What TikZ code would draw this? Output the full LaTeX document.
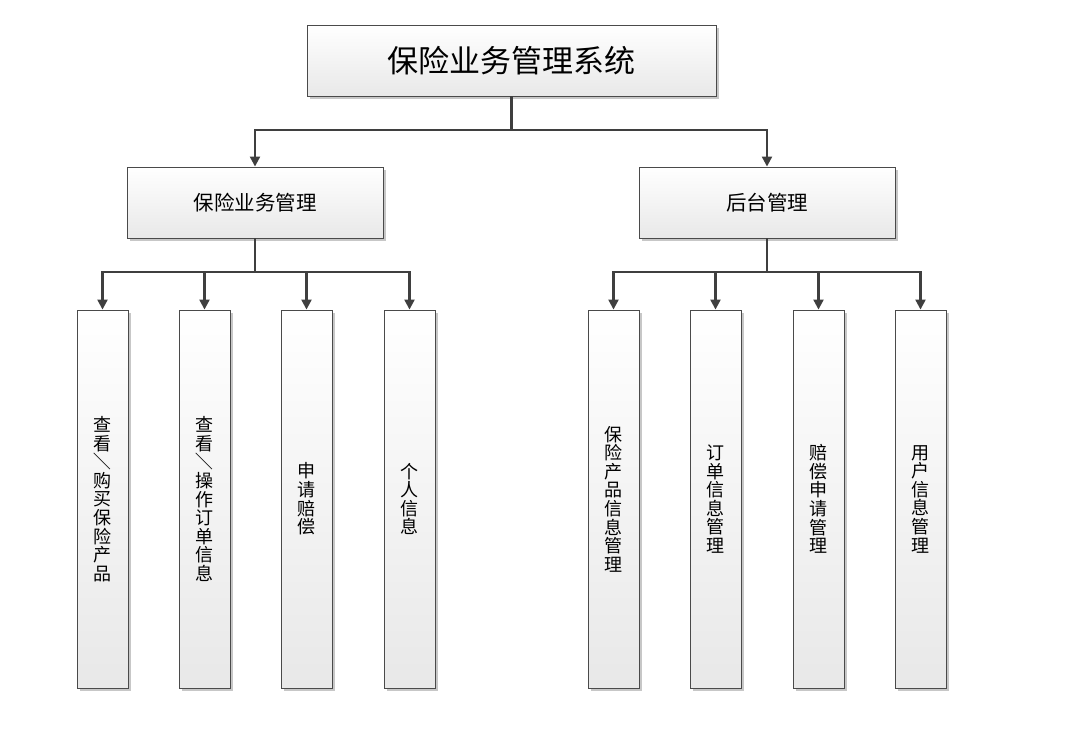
\documentclass[tikz,border=0pt]{standalone}
\usepackage{fontspec}
\usepackage{graphicx}
\newfontfamily\cjk{Noto Sans CJK SC}
\usetikzlibrary{arrows.meta,shadows}
\definecolor{boxborder}{HTML}{4A4A4A}
\definecolor{boxbottom}{HTML}{E8E8E8}
\definecolor{linecol}{HTML}{3F3F3F}
\tikzset{
  box/.style={draw=boxborder, line width=0.9pt, top color=white, bottom color=boxbottom,
    drop shadow={shadow xshift=2.5pt, shadow yshift=-2.5pt, fill=black!22, opacity=1},
    inner sep=0pt, text=black, align=center},
  topbox/.style={box, minimum width=409pt, minimum height=71pt, font=\cjk\fontsize{31}{34}\selectfont},
  midbox/.style={box, minimum width=256pt, minimum height=71pt, font=\cjk\fontsize{20.5}{24}\selectfont},
  leafbox/.style={box, minimum width=51pt, minimum height=378pt, font=\cjk\fontsize{18}{18.6}\selectfont},
  conn/.style={draw=linecol, line width=2.2pt},
  arr/.style={conn, -{Triangle[length=10pt,width=10pt]}},
}
\newcommand{\rslash}{\rotatebox[origin=c]{-90}{／}}
\begin{document}
\begin{tikzpicture}[x=1pt,y=-1pt]
\useasboundingbox (0,0) rectangle (1087,737);
\node[topbox] (top) at (511.5,60.5) {保险业务管理系统};
\node[midbox] (ml) at (255,202.5) {保险业务管理};
\node[midbox] (mr) at (767,202.5) {后台管理};
\node[leafbox] (l1) at (102.5,499) {查\\看\\\rslash\\购\\买\\保\\险\\产\\品};
\node[leafbox] (l2) at (204.5,499) {查\\看\\\rslash\\操\\作\\订\\单\\信\\息};
\node[leafbox] (l3) at (306.5,499) {申\\请\\赔\\偿};
\node[leafbox] (l4) at (409.5,499) {个\\人\\信\\息};
\node[leafbox] (r1) at (613.5,499) {保\\险\\产\\品\\信\\息\\管\\理};
\node[leafbox] (r2) at (715.5,499) {订\\单\\信\\息\\管\\理};
\node[leafbox] (r3) at (818.5,499) {赔\\偿\\申\\请\\管\\理};
\node[leafbox] (r4) at (920.5,499) {用\\户\\信\\息\\管\\理};
\coordinate (j0) at (511.5,130);
\coordinate (j1) at (255,272);
\coordinate (j2) at (767,272);
\draw[arr] (top.south) -- (j0) -| (ml.north);
\draw[arr] (j0) -| (mr.north);
\draw[conn] (ml.south) -- (j1);
\draw[arr] (j1) -| (l1.north);
\draw[arr] (j1) -| (l2.north);
\draw[arr] (j1) -| (l3.north);
\draw[arr] (j1) -| (l4.north);
\draw[conn] (mr.south) -- (j2);
\draw[arr] (j2) -| (r1.north);
\draw[arr] (j2) -| (r2.north);
\draw[arr] (j2) -| (r3.north);
\draw[arr] (j2) -| (r4.north);
\end{tikzpicture}
\end{document}
